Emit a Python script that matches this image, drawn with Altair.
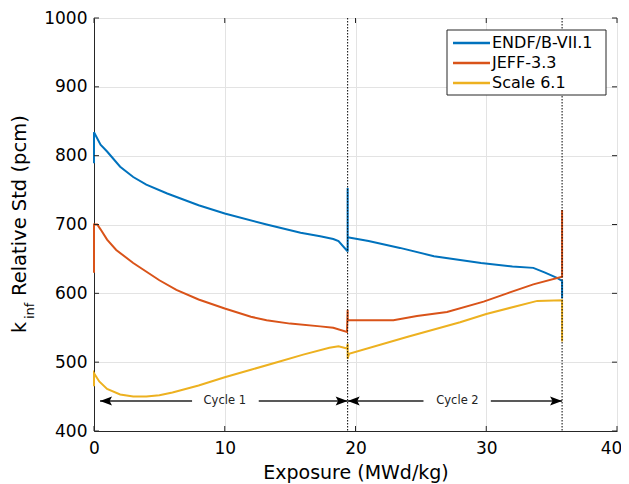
import altair as alt
import pandas as pd

SERIES = ["ENDF/B-VII.1", "JEFF-3.3", "Scale 6.1"]
COLORS = ["#0072BD", "#D95319", "#EDB120"]

endf_x = [0, 0, 0.5, 1, 2, 3, 4, 5.6, 8, 10, 13.2, 15.8, 17.3, 18.3, 18.7, 19.35, 19.4, 19.4, 19.4,
          19.5, 21, 23.4, 26, 29.6, 32, 33.6, 34.5, 35.45, 35.8, 35.8]
endf_y = [789, 834, 816, 806, 784, 769, 758, 745, 728, 716, 700, 688, 683, 679, 676, 662, 662, 753, 681,
          681, 676, 666, 654, 644, 639, 637, 630, 622, 618, 593]

jeff_x = [0, 0, 0.25, 0.5, 1, 1.7, 3, 5, 6.3, 8, 10, 12, 13.2, 15, 17.3, 18.3, 19.35, 19.4, 19.4,
          19.6, 22.9, 24.7, 27, 29.8, 31.6, 33.6, 35.8, 35.8]
jeff_y = [630, 700, 700, 693, 678, 663, 644, 619, 605, 591, 578, 566, 561, 556, 552, 550, 544, 576, 561,
          561, 561, 567, 573, 588, 600, 613, 624, 721]

scale_x = [0, 0, 0.4, 1, 2, 3, 4, 5, 6, 8, 10, 12, 14, 16, 18, 18.7, 19.35, 19.4, 19.4, 19.5,
           24, 28, 30, 33.9, 35.8, 35.8]
scale_y = [465, 484, 472, 461, 453, 450, 450, 452, 456, 466, 478, 489, 500, 511, 521, 523, 520, 527, 505, 512,
           537, 558, 570, 589, 590, 530]

cycle_labels = ["Cycle 1", "Cycle 2"]
cycle_start = [0.46, 19.4]
cycle_end = [19.4, 35.8]
cycle_text_x = [10.0, 27.8]
cycle_gap_lo = [7.5, 25.2]
cycle_gap_hi = [12.6, 30.35]
cycle_y = 443.6
cycle_bounds = [19.4, 35.8]

x_ticks = [0, 10, 20, 30, 40]
y_ticks = [400, 500, 600, 700, 800, 900, 1000]

rows = []
for name, xs, ys in zip(SERIES, [endf_x, jeff_x, scale_x], [endf_y, jeff_y, scale_y]):
    for i, (a, b) in enumerate(zip(xs, ys)):
        rows.append({"series": name, "x": a, "y": b, "order": i})
df = pd.DataFrame(rows)

W, H = 523, 413
FONT = "DejaVu Sans"
XT = "Exposure (MWd/kg)"
xscale = alt.Scale(domain=[0, 40], nice=False, zero=False)
yscale = alt.Scale(domain=[400, 1000], nice=False, zero=False)


def X(field="x"):
    return alt.X(f"{field}:Q", scale=xscale, title=XT)


def Y(field="y"):
    return alt.Y(f"{field}:Q", scale=yscale, title=None)


lines = alt.Chart(df).mark_line(strokeWidth=2).encode(
    x=alt.X("x:Q", scale=xscale, title=XT, axis=alt.Axis(
        values=x_ticks, grid=True, ticks=False, tickSize=0, format="d", labelFlush=False,
        labelOffset={"condition": {"test": "datum.value == 40", "value": -6}, "value": 0},
        labelPadding=9, labelFontSize=17, titleFontSize=19, titlePadding=7,
        labelColor="black", titleColor="black", titleFontWeight="normal",
        domainColor="#262626", gridColor="#e3e3e3", labelFont=FONT, titleFont=FONT)),
    y=alt.Y("y:Q", scale=yscale, title=None, axis=alt.Axis(
        values=y_ticks, grid=True, ticks=False, tickSize=0, format="d", labelFlush=False,
        labelPadding=7, labelFontSize=17, labelColor="black",
        domainColor="#262626", gridColor="#e3e3e3", labelFont=FONT)),
    color=alt.Color("series:N", scale=alt.Scale(domain=SERIES, range=COLORS), legend=None),
    order="order:Q",
)

bounds = alt.Chart(pd.DataFrame({"x": cycle_bounds})).mark_rule(
    color="black", strokeWidth=1, strokeDash=[1.5, 1.5]
).encode(x=X())

seg_rows = []
for s, e, lo, hi in zip(cycle_start, cycle_end, cycle_gap_lo, cycle_gap_hi):
    seg_rows.append({"x": s, "x2": lo})
    seg_rows.append({"x": hi, "x2": e})
segs = alt.Chart(pd.DataFrame(seg_rows)).mark_rule(color="#222222", strokeWidth=1.5).encode(
    x=X(), x2="x2:Q", y=Y(),
).transform_calculate(y=str(cycle_y))

heads_r = alt.Chart(pd.DataFrame({"x": cycle_end})).mark_point(
    shape="M0,0L-2,-0.75L-1.6,0L-2,0.75Z", size=144, filled=True, color="black", opacity=1
).encode(x=X(), y=Y()).transform_calculate(y=str(cycle_y))
heads_l = alt.Chart(pd.DataFrame({"x": cycle_start})).mark_point(
    shape="M0,0L2,-0.75L1.6,0L2,0.75Z", size=144, filled=True, color="black", opacity=1
).encode(x=X(), y=Y()).transform_calculate(y=str(cycle_y))

cyc_text = alt.Chart(pd.DataFrame({"x": cycle_text_x, "t": cycle_labels})).mark_text(
    fontSize=11.5, color="#222222", font=FONT, baseline="middle", align="center"
).encode(x=X(), y=Y(), text="t:N").transform_calculate(y=str(cycle_y))

# inward ticks on all four sides
tx = pd.DataFrame({"x": x_ticks})
ty = pd.DataFrame({"y": y_ticks})
tick_b = alt.Chart(tx).mark_rule(color="#262626", strokeWidth=1).encode(
    x=X(), y=alt.value(H), y2=alt.value(H - 5))
tick_t = alt.Chart(tx).mark_rule(color="#262626", strokeWidth=1).encode(
    x=X(), y=alt.value(0), y2=alt.value(5))
tick_l = alt.Chart(ty).mark_rule(color="#262626", strokeWidth=1).encode(
    y=Y(), x=alt.value(0), x2=alt.value(5))
tick_r = alt.Chart(ty).mark_rule(color="#262626", strokeWidth=1).encode(
    y=Y(), x=alt.value(W), x2=alt.value(W - 5))

one = pd.DataFrame({"k": [0]})
# y-axis title with subscript
yt_k = alt.Chart(one).mark_text(text="k", angle=270, align="left", baseline="alphabetic",
                                 fontSize=19, font=FONT, color="black").encode(
    x=alt.value(-68), y=alt.value(315))
yt_inf = alt.Chart(one).mark_text(text="inf", angle=270, align="left", baseline="alphabetic",
                                   fontSize=13, font=FONT, color="black").encode(
    x=alt.value(-60), y=alt.value(301))
yt_rest = alt.Chart(one).mark_text(text="Relative Std (pcm)", angle=270, align="left",
                                    baseline="alphabetic", fontSize=19.5, font=FONT, color="black").encode(
    x=alt.value(-68), y=alt.value(278))

# legend box
LX0, LX1, LY0, LY1 = 353, 512, 12, 77
leg_box = alt.Chart(one).mark_rect(fill="white", stroke="#262626", strokeWidth=1).encode(
    x=alt.value(LX0), x2=alt.value(LX1), y=alt.value(LY0), y2=alt.value(LY1))
leg_layers = [leg_box]
for i, (name, col) in enumerate(zip(SERIES, COLORS)):
    yy = LY0 + 13 + 20 * i
    leg_layers.append(alt.Chart(one).mark_rule(color=col, strokeWidth=2.5).encode(
        x=alt.value(LX0 + 6), x2=alt.value(LX0 + 43), y=alt.value(yy)))
    leg_layers.append(alt.Chart(one).mark_text(text=name, align="left", baseline="middle",
                                               fontSize=16, font=FONT, color="black").encode(
        x=alt.value(LX0 + 45), y=alt.value(yy)))

chart = alt.layer(
    lines, bounds, segs, heads_l, heads_r, cyc_text,
    tick_b, tick_t, tick_l, tick_r, yt_k, yt_inf, yt_rest, *leg_layers
).properties(
    width=W, height=H,
    autosize=alt.AutoSizeParams(type="none"),
    padding={"left": 86, "top": 10, "right": 4, "bottom": 55},
).configure_view(stroke="#262626", strokeWidth=1).configure(font=FONT)

chart.save("out.html", embed_options={"renderer": "svg", "actions": False})
